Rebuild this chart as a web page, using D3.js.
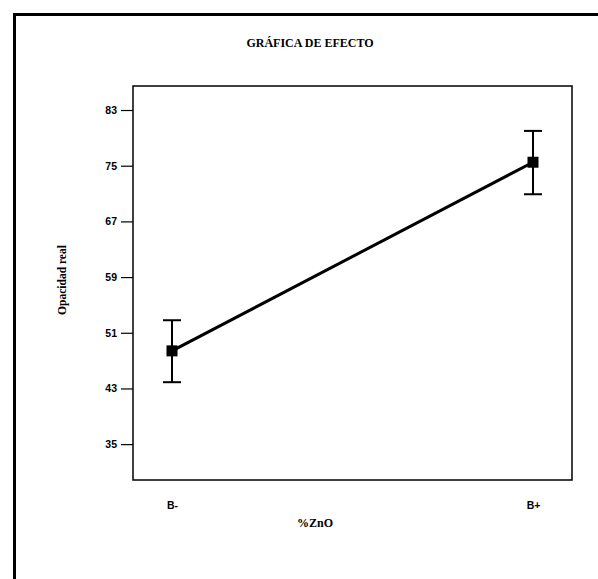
<!DOCTYPE html>
<html>
<head>
<meta charset="utf-8">
<script src="https://cdn.jsdelivr.net/npm/d3@7"></script>
<style>
  html, body { margin: 0; padding: 0; background: #fff; }
  svg { display: block; }
</style>
</head>
<body>
<svg id="chart" width="598" height="579"></svg>
<script>
const categories = ["B-", "B+"];
const means = [48.4, 75.5];
const lower = [43.9, 70.9];
const upper = [52.8, 80.0];
const yTicks = [35, 43, 51, 59, 67, 75, 83];
const title = "GRÁFICA DE EFECTO";
const xLabel = "%ZnO";
const yLabel = "Opacidad real";

const svg = d3.select("#chart");
const W = 598, H = 579;
const plot = { left: 133, right: 572, top: 86, bottom: 480 };

// Outer frame (top + left thick borders)
svg.append("path")
  .attr("d", `M14.5,${H} L14.5,14.5 L${W},14.5`)
  .attr("fill", "none").attr("stroke", "#000").attr("stroke-width", 3);

// Plot box
svg.append("rect")
  .attr("x", plot.left).attr("y", plot.top)
  .attr("width", plot.right - plot.left).attr("height", plot.bottom - plot.top)
  .attr("fill", "none").attr("stroke", "#000").attr("stroke-width", 1.5);

const y = d3.scaleLinear().domain([29.85, 86.45]).range([plot.bottom, plot.top]);
const x = d3.scalePoint().domain(categories).range([172, 533]);

// Y axis
const yAxis = d3.axisLeft(y).tickValues(yTicks).tickSize(12).tickPadding(4);
const gy = svg.append("g").attr("transform", `translate(${plot.left},0)`).call(yAxis);
gy.select(".domain").remove();
gy.selectAll(".tick line").attr("stroke", "#000").attr("stroke-width", 1.2);
gy.selectAll(".tick text")
  .attr("font-family", "Liberation Sans, Arial, sans-serif")
  .attr("font-weight", "bold").attr("font-size", 10.5).attr("fill", "#000");

// X axis labels (no ticks)
const xAxis = d3.axisBottom(x).tickSize(0).tickPadding(22);
const gx = svg.append("g").attr("transform", `translate(0,${plot.bottom})`).call(xAxis);
gx.select(".domain").remove();
gx.selectAll(".tick text")
  .attr("font-family", "Liberation Sans, Arial, sans-serif")
  .attr("font-weight", "bold").attr("font-size", 10.5).attr("fill", "#000");

// Title
svg.append("text").attr("x", 310).attr("y", 47).attr("text-anchor", "middle")
  .attr("font-family", "Liberation Serif, Times New Roman, serif")
  .attr("font-weight", "bold").attr("font-size", 12).text(title);

// Axis labels
svg.append("text").attr("x", 315).attr("y", 527).attr("text-anchor", "middle")
  .attr("font-family", "Liberation Serif, Times New Roman, serif")
  .attr("font-weight", "bold").attr("font-size", 12).text(xLabel);

svg.append("text")
  .attr("transform", `translate(66,${(plot.top + plot.bottom) / 2 - 3}) rotate(-90)`)
  .attr("text-anchor", "middle")
  .attr("font-family", "Liberation Serif, Times New Roman, serif")
  .attr("font-weight", "bold").attr("font-size", 11.5).text(yLabel);

const data = categories.map((c, i) => ({ c, m: means[i], lo: lower[i], hi: upper[i] }));

// Line
svg.append("path").datum(data)
  .attr("d", d3.line().x(d => x(d.c)).y(d => y(d.m)))
  .attr("fill", "none").attr("stroke", "#000").attr("stroke-width", 3);

// Error bars
const eb = svg.append("g").selectAll("g").data(data).join("g");
eb.append("line").attr("x1", d => x(d.c)).attr("x2", d => x(d.c))
  .attr("y1", d => y(d.hi)).attr("y2", d => y(d.lo))
  .attr("stroke", "#000").attr("stroke-width", 2);
eb.append("line").attr("x1", d => x(d.c) - 9).attr("x2", d => x(d.c) + 9)
  .attr("y1", d => y(d.hi)).attr("y2", d => y(d.hi))
  .attr("stroke", "#000").attr("stroke-width", 2);
eb.append("line").attr("x1", d => x(d.c) - 9).attr("x2", d => x(d.c) + 9)
  .attr("y1", d => y(d.lo)).attr("y2", d => y(d.lo))
  .attr("stroke", "#000").attr("stroke-width", 2);

// Markers
eb.append("rect").attr("x", d => x(d.c) - 5.5).attr("y", d => y(d.m) - 5.5)
  .attr("width", 11).attr("height", 11).attr("fill", "#000");
</script>
</body>
</html>
